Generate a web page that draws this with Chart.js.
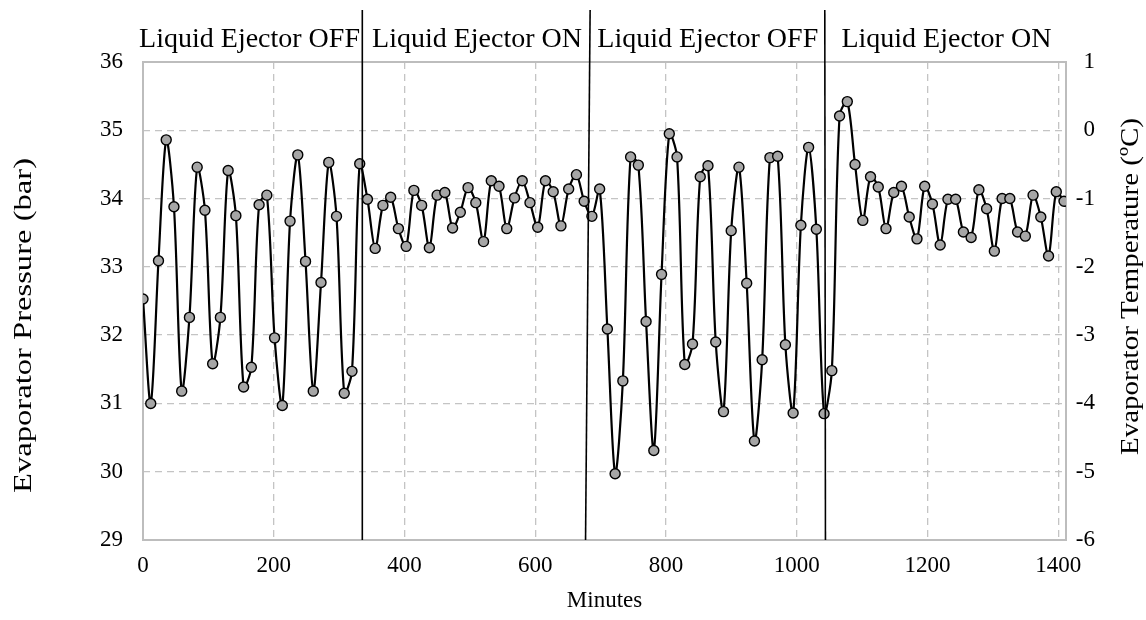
<!DOCTYPE html>
<html><head><meta charset="utf-8">
<script src="https://cdn.jsdelivr.net/npm/chart.js@4/dist/chart.umd.min.js"></script>
<style>html,body{margin:0;padding:0;background:#fff}#wrap{width:1146px;height:620px}</style>
</head><body><div id="wrap"><canvas id="c" width="1146" height="620"></canvas></div>
<script>
// ---- data ----
const SAMPLE_INTERVAL_MIN = 11.84;
const pressureBar = [
  32.53, 31.00, 33.09, 34.86, 33.88, 31.18, 32.26, 34.46, 33.83, 31.58,
  32.26, 34.41, 33.75, 31.24, 31.53, 33.91, 34.05, 31.96, 30.97, 33.67,
  34.64, 33.08, 31.18, 32.77, 34.53, 33.74, 31.15, 31.47, 34.51, 33.99,
  33.27, 33.90, 34.02, 33.56, 33.30, 34.12, 33.90, 33.28, 34.05, 34.09,
  33.57, 33.80, 34.16, 33.94, 33.37, 34.26, 34.18, 33.56, 34.01, 34.26,
  33.94, 33.58, 34.26, 34.10, 33.60, 34.14, 34.35, 33.96, 33.74, 34.14,
  32.09, 29.97, 31.33, 34.61, 34.49, 32.20, 30.31, 32.89, 34.95, 34.61,
  31.57, 31.87, 34.32, 34.48, 31.90, 30.88, 33.53, 34.46, 32.76, 30.45,
  31.64, 34.60, 34.62, 31.86, 30.86, 33.61, 34.75, 33.55, 30.85, 31.48,
  35.21, 35.42, 34.50, 33.68, 34.32, 34.17, 33.56, 34.09, 34.18, 33.73,
  33.41, 34.18, 33.92, 33.32, 33.99, 33.99, 33.51, 33.43, 34.13, 33.85,
  33.23, 34.00, 34.00, 33.51, 33.45, 34.05, 33.73, 33.16, 34.10, 33.96
];
const minutesMax = 1412;
const minuteTicks = [0, 200, 400, 600, 800, 1000, 1200, 1400];
const pressureTicks = [29, 30, 31, 32, 33, 34, 35, 36];
const temperatureTicks = [-6, -5, -4, -3, -2, -1, 0, 1];
// switch-over markers (minutes at top and bottom of line)
const switchTop = [335.5, 684, 1043];
const switchBottom = [335.5, 677, 1044];
const phaseLabels = ['Liquid Ejector OFF', 'Liquid Ejector ON', 'Liquid Ejector OFF', 'Liquid Ejector ON'];
const phaseLabelCentres = [163, 511, 864, 1229];
const xTitle = 'Minutes';
const yLeftTitle = 'Evaporator Pressure (bar)';
const yRightTitle = 'Evaporator Temperature (ºC)';

const FONT = "'Liberation Serif', 'Times New Roman', serif";
Chart.defaults.font.family = FONT;
Chart.defaults.color = '#000';

const points = pressureBar.map((v, i) => ({x: i * SAMPLE_INTERVAL_MIN, y: v}));

function drawStretched(ctx, text, cx, cy, fontPx, targetLen) {
  ctx.save();
  ctx.font = fontPx + 'px ' + FONT;
  const w = ctx.measureText(text).width;
  ctx.translate(cx, cy);
  ctx.rotate(-Math.PI / 2);
  ctx.scale(targetLen / w, 1);
  ctx.textAlign = 'center';
  ctx.textBaseline = 'middle';
  ctx.fillText(text, 0, 0);
  ctx.restore();
}

const decor = {
  id: 'decor',
  beforeDatasetsDraw(chart) {
    const {ctx, chartArea: a} = chart;
    ctx.save();
    ctx.strokeStyle = '#bdbdbd';
    ctx.lineWidth = 2;
    ctx.strokeRect(a.left, a.top, a.right - a.left, a.bottom - a.top);
    ctx.restore();
  },
  afterDatasetsDraw(chart) {
    const {ctx, chartArea: a, scales} = chart;
    const xs = scales.x;
    ctx.save();
    ctx.strokeStyle = '#000';
    ctx.lineWidth = 1.6;
    for (let i = 0; i < switchTop.length; i++) {
      ctx.beginPath();
      ctx.moveTo(xs.getPixelForValue(switchTop[i]), 10);
      ctx.lineTo(xs.getPixelForValue(switchBottom[i]), a.bottom);
      ctx.stroke();
    }
    ctx.restore();
  },
  afterDraw(chart) {
    const {ctx, chartArea: a, scales} = chart;
    const xs = scales.x;
    ctx.save();
    ctx.fillStyle = '#000';
    ctx.textAlign = 'center';
    ctx.textBaseline = 'alphabetic';
    ctx.font = '28px ' + FONT;
    phaseLabels.forEach((t, i) => ctx.fillText(t, xs.getPixelForValue(phaseLabelCentres[i]), 47));
    ctx.font = '23px ' + FONT;
    ctx.textBaseline = 'middle';
    ctx.fillText(xTitle, (a.left + a.right) / 2, 601);
    ctx.restore();
    drawStretched(ctx, yLeftTitle, 24, 325.5, 26, 335);
    drawStretched(ctx, yRightTitle, 1131, 286.5, 26, 337);
  }
};

const gridColor = '#c4c4c4';
const fixedTicks = (vals) => function (s) { s.ticks = vals.map(v => ({value: v})); };
const plainLabel = (v) => String(v);
new Chart(document.getElementById('c'), {
  type: 'line',
  data: {
    datasets: [{
      data: points,
      borderColor: '#000',
      borderWidth: 2.2,
      tension: 0.3,
      pointRadius: 5,
      pointHoverRadius: 5,
      pointBorderWidth: 1.4,
      pointBackgroundColor: '#a6a6a6',
      pointBorderColor: '#000',
      fill: false
    }]
  },
  options: {
    responsive: false,
    animation: false,
    devicePixelRatio: 1,
    layout: {padding: {top: 62, right: 51, left: 0, bottom: 0}},
    plugins: {legend: {display: false}, tooltip: {enabled: false}},
    scales: {
      x: {
        type: 'linear', position: 'bottom',
        min: 0, max: minutesMax,
        afterBuildTicks: fixedTicks(minuteTicks),
        ticks: {padding: 12, font: {size: 23}, color: '#000', maxRotation: 0, autoSkip: false, callback: plainLabel},
        grid: {color: gridColor, lineWidth: 1.3, drawTicks: false},
        border: {display: false, dash: [7, 5]},
        afterFit(s) { s.height = 80; }
      },
      y: {
        position: 'left',
        min: pressureTicks[0], max: pressureTicks[pressureTicks.length - 1],
        afterBuildTicks: fixedTicks(pressureTicks),
        ticks: {padding: 20, font: {size: 23}, color: '#000', callback: plainLabel},
        grid: {color: gridColor, lineWidth: 1.3, drawTicks: false},
        border: {display: false, dash: [7, 5]},
        afterFit(s) { s.width = 143; }
      },
      y2: {
        position: 'right',
        min: temperatureTicks[0], max: temperatureTicks[temperatureTicks.length - 1],
        afterBuildTicks: fixedTicks(temperatureTicks),
        ticks: {padding: 14, crossAlign: 'far', font: {size: 23}, color: '#000', callback: plainLabel},
        grid: {drawOnChartArea: false, drawTicks: false},
        border: {display: false},
        afterFit(s) { s.width = 29; }
      }
    }
  },
  plugins: [decor]
});
</script>
</body></html>
